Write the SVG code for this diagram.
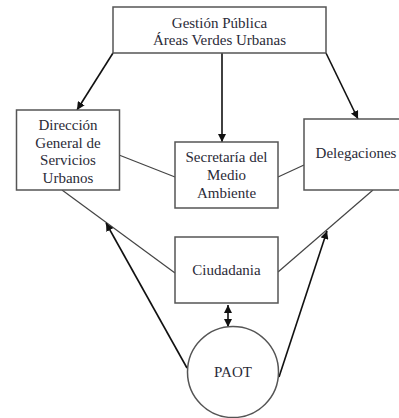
<svg xmlns="http://www.w3.org/2000/svg" width="399" height="418" viewBox="0 0 399 418">
<defs>
<marker id="ah" viewBox="0 0 10 10" refX="10" refY="5" markerWidth="8" markerHeight="8" markerUnits="userSpaceOnUse" orient="auto-start-reverse">
<path d="M0,0 L10,5 L0,10 z" fill="#111"/>
</marker>
<style>
.box{fill:#fff;stroke:#555;stroke-width:1.5}
.t{font-family:"Liberation Serif","Times New Roman",serif;font-size:15px;fill:#2b2b38;text-anchor:middle}
.ln{stroke:#444;stroke-width:1.2;fill:none}
.ar{stroke:#111;stroke-width:1.6;fill:none;marker-end:url(#ah)}
</style>
</defs>
<rect width="399" height="418" fill="#fff"/>
<g id="connectors">
<line class="ar" x1="113" y1="53" x2="77" y2="110"/>
<line class="ar" x1="222" y1="53" x2="222" y2="142"/>
<line class="ar" x1="326" y1="53" x2="358" y2="119"/>
<line class="ln" x1="119" y1="155" x2="175" y2="177"/>
<line class="ln" x1="278" y1="177" x2="304" y2="165"/>
<line class="ln" x1="62" y1="190" x2="175" y2="273"/>
<line class="ln" x1="373" y1="190" x2="278" y2="272"/>
<line class="ar" x1="187" y1="368" x2="106" y2="223"/>
<line class="ar" x1="279" y1="377" x2="327" y2="231"/>
<line class="ar" x1="228" y1="305" x2="228" y2="327" marker-start="url(#ah)"/>
</g>
<g id="gestion">
<rect class="box" x="113" y="7" width="213" height="46"/>
<text class="t" x="219.5" y="28">Gestión Pública</text>
<text class="t" x="219.5" y="45">Áreas Verdes Urbanas</text>
</g>
<g id="direccion">
<rect class="box" x="16.5" y="110" width="103" height="80"/>
<text class="t" x="68" y="130">Dirección</text>
<text class="t" x="68" y="147.5">General de</text>
<text class="t" x="68" y="165">Servicios</text>
<text class="t" x="68" y="182.5">Urbanos</text>
</g>
<g id="secretaria">
<rect class="box" x="175" y="142" width="103" height="66"/>
<text class="t" x="226.5" y="162">Secretaría del</text>
<text class="t" x="226.5" y="180">Medio</text>
<text class="t" x="226.5" y="198">Ambiente</text>
</g>
<g id="delegaciones">
<rect class="box" x="304" y="119" width="100" height="71"/>
<text class="t" x="356" y="158">Delegaciones</text>
</g>
<g id="ciudadania">
<rect class="box" x="175" y="237" width="103" height="66"/>
<text class="t" x="226.5" y="275">Ciudadania</text>
</g>
<g id="paot">
<circle class="box" cx="233" cy="372" r="45.5"/>
<text class="t" x="233" y="377">PAOT</text>
</g>
</svg>
